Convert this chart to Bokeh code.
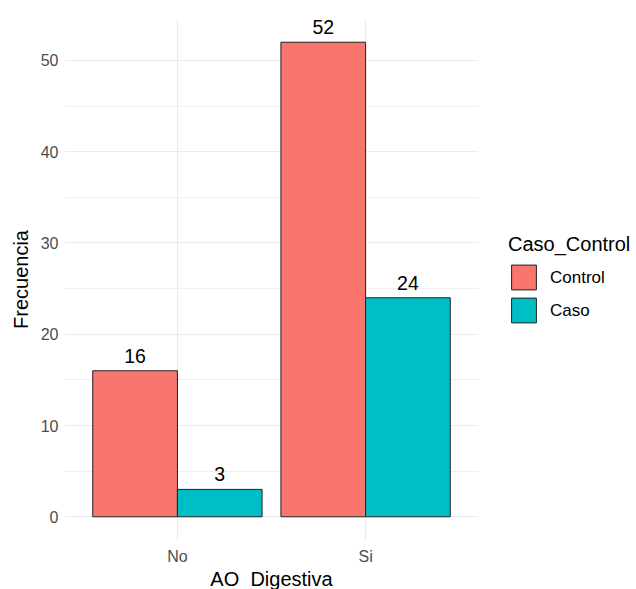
from bokeh.plotting import figure
from bokeh.models import (ColumnDataSource, FixedTicker, Legend, LegendItem, Range1d)
from bokeh.embed import file_html
from bokeh.resources import INLINE
from bokeh.core.properties import value

categories = ["No", "Si"]
control = [16, 52]
caso = [3, 24]
series_names = ["Control", "Caso"]
series_colors = ["#F8766D", "#00BFC4"]
y_ticks = [0, 10, 20, 30, 40, 50]
y_minor = [5, 15, 25, 35, 45]

FONT = "Liberation Sans"
xpos = [i + 1 for i in range(len(categories))]
dodge = 0.225
bw = 0.45

src_ctrl = ColumnDataSource(dict(x=[v - dodge for v in xpos], y=control, lab=[str(v) for v in control]))
src_caso = ColumnDataSource(dict(x=[v + dodge for v in xpos], y=caso, lab=[str(v) for v in caso]))

ymax = max(control + caso)
p = figure(frame_width=414, frame_height=522, output_backend="svg", toolbar_location=None,
           x_range=Range1d(0.4, 2.6), y_range=Range1d(-0.05 * ymax, 1.05 * ymax),
           min_border_left=64, min_border_right=158, min_border_top=18, min_border_bottom=47)
p.outline_line_color = None
p.background_fill_color = "white"

r1 = p.vbar(x="x", top="y", width=bw, bottom=0, source=src_ctrl,
            fill_color=series_colors[0], line_color="#222222", line_width=1)
r2 = p.vbar(x="x", top="y", width=bw, bottom=0, source=src_caso,
            fill_color=series_colors[1], line_color="#222222", line_width=1)

for s in (src_ctrl, src_caso):
    p.text(x="x", y="y", text="lab", source=s, text_align="center", text_baseline="bottom",
           y_offset=-8, text_font=value(FONT), text_font_size="19.5px", text_color="black")

# axes
p.xaxis.ticker = FixedTicker(ticks=xpos)
p.xaxis.major_label_overrides = {x: c for x, c in zip(xpos, categories)}
p.yaxis.ticker = FixedTicker(ticks=y_ticks, minor_ticks=y_minor)
for ax in (p.xaxis[0], p.yaxis[0]):
    ax.axis_line_color = None
    ax.major_tick_line_color = None
    ax.minor_tick_line_color = None
    ax.major_tick_out = 0
    ax.major_tick_in = 0
    ax.minor_tick_out = 0
    ax.minor_tick_in = 0
    ax.major_label_text_font = FONT
    ax.major_label_text_font_size = "16px"
    ax.major_label_text_color = "#4D4D4D"
    ax.axis_label_text_font = FONT
    ax.axis_label_text_font_size = "20px"
    ax.axis_label_text_font_style = "normal"
    ax.axis_label_text_color = "black"
p.yaxis.axis_label = "Frecuencia"
p.yaxis.major_label_standoff = 6
p.yaxis.axis_label_standoff = 6
p.xaxis.axis_label = "AO_Digestiva"
p.xaxis.major_label_standoff = 7
p.xaxis.axis_label_standoff = 0

p.xgrid.grid_line_color = "#EBEBEB"
p.xgrid.grid_line_width = 1.1
p.ygrid.grid_line_color = "#EBEBEB"
p.ygrid.grid_line_width = 1.1
p.ygrid.minor_grid_line_color = "#EBEBEB"
p.ygrid.minor_grid_line_width = 0.8

legend = Legend(items=[LegendItem(label=series_names[0], renderers=[r1]),
                       LegendItem(label=series_names[1], renderers=[r2])],
                location="center_left", title="Caso_Control")
legend.title_text_font = FONT
legend.title_text_font_size = "20px"
legend.title_text_font_style = "normal"
legend.title_text_color = "black"
legend.title_standoff = 6
legend.label_text_font = FONT
legend.label_text_font_size = "17px"
legend.label_text_color = "black"
legend.glyph_width = 31
legend.glyph_height = 31
legend.label_standoff = 11
legend.spacing = 2
legend.padding = 0
legend.margin = 30
legend.border_line_color = None
legend.background_fill_alpha = 0
p.add_layout(legend, "right")

open("out.html", "w").write(file_html(p, INLINE))
